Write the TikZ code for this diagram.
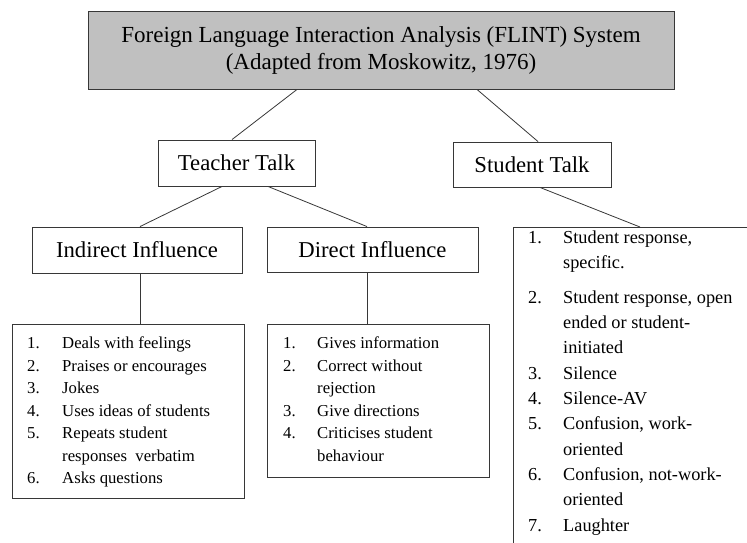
\documentclass[tikz,border=0pt]{standalone}
\usepackage{fontspec}
\setmainfont{Liberation Serif}
\definecolor{linegray}{RGB}{55,55,55}
\definecolor{titlegray}{RGB}{192,192,192}
\begin{document}
\begin{tikzpicture}[x=1pt,y=-1pt,
  boxline/.style={draw=linegray, line width=0.9pt},
  hdr/.style={boxline, inner sep=0pt, font=\fontsize{22.7}{26}\selectfont},
  conn/.style={draw=linegray, line width=0.8pt},
  litem/.style={anchor=base west, inner sep=0pt, font=\fontsize{16.7}{20}\selectfont},
  sitem/.style={anchor=base west, inner sep=0pt, font=\fontsize{18.3}{22}\selectfont}]
\useasboundingbox (0,0) rectangle (747,542);
\clip (0,0) rectangle (747,542);

% boxes
\node[boxline, fill=titlegray, minimum width=586pt, minimum height=78pt, inner sep=0pt,
      align=center, font=\fontsize{23}{27}\selectfont] (title) at (381,50)
  {Foreign Language Interaction Analysis (FLINT) System\\(Adapted from Moskowitz, 1976)};
\node[hdr, minimum width=157pt, minimum height=46pt] (teacher) at (236.5,163) {Teacher Talk};
\node[hdr, minimum width=158pt, minimum height=45pt] (student) at (532,164.5) {Student Talk};
\node[hdr, minimum width=210pt, minimum height=46pt] (indirect) at (137,250) {Indirect Influence};
\node[hdr, minimum width=211pt, minimum height=45pt] (direct) at (372.5,249.5) {Direct Influence};
\node[boxline, minimum width=232pt, minimum height=174pt, inner sep=0pt] (ilist) at (128,411) {};
\node[boxline, minimum width=222pt, minimum height=153pt, inner sep=0pt] (dlist) at (378,400.5) {};
\node[boxline, minimum width=260pt, minimum height=340pt, inner sep=0pt, anchor=north west] (slist) at (513,227) {};

% connectors
\draw[conn] ([xshift=-84pt]title.south) -- ([xshift=-4.5pt]teacher.north);
\draw[conn] ([xshift=96pt]title.south) -- ([xshift=6pt]student.north);
\draw[conn] ([xshift=-14.5pt]teacher.south) -- ([xshift=3pt]indirect.north);
\draw[conn] ([xshift=31.5pt]teacher.south) -- ([xshift=-5.5pt]direct.north);
\draw[conn] ([xshift=8pt]student.south) -- ([xshift=127pt]slist.north west);
\draw[conn] ([xshift=3pt]indirect.south) -- ([xshift=3pt]indirect.south |- ilist.north);
\draw[conn] ([xshift=-5.5pt]direct.south) -- ([xshift=-5.5pt]direct.south |- dlist.north);

% indirect list
\foreach \y/\n [count=\c] in {348/1., 371/2., 393.8/3., 416.5/4., 438.8/5., 483.8/6.}
  \node[litem] (in\c) at (27,\y) {\n};
\foreach \y/\t [count=\c] in {348/{Deals with feelings}, 371/{Praises or encourages}, 393.8/{Jokes},
   416.5/{Uses ideas of students}, 438.8/{Repeats student}, 461.5/{responses\ \ verbatim}, 483.8/{Asks questions}}
  \node[litem] (it\c) at (62,\y) {\t};

% direct list
\foreach \y/\n [count=\c] in {348/1., 371/2., 416.5/3., 438.8/4.}
  \node[litem] (dn\c) at (283,\y) {\n};
\foreach \y/\t [count=\c] in {348/{Gives information}, 371/{Correct without}, 393.8/{rejection},
   416.5/{Give directions}, 438.8/{Criticises student}, 461.5/{behaviour}}
  \node[litem] (dt\c) at (317,\y) {\t};

% student list
\foreach \y/\n [count=\c] in {243/1., 303/2., 379/3., 404/4., 429/5., 480/6., 531/7.}
  \node[sitem] (sn\c) at (528,\y) {\n};
\foreach \y/\t [count=\c] in {243/{Student response,}, 268/{specific.}, 303/{Student response, open},
   328/{ended or student-}, 353/{initiated}, 379/{Silence}, 404/{Silence-AV}, 429/{Confusion, work-},
   455/{oriented}, 480/{Confusion, not-work-}, 505/{oriented}, 531/{Laughter}}
  \node[sitem] (st\c) at (563,\y) {\t};
\end{tikzpicture}
\end{document}
